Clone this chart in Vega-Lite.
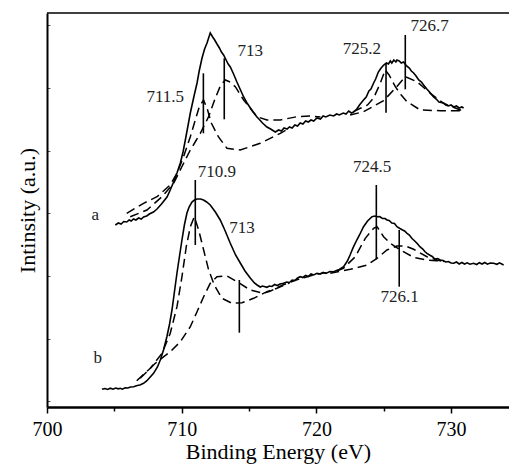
{
  "$schema": "https://vega.github.io/schema/vega-lite/v6.json",
  "width": 462,
  "height": 394,
  "autosize": {"type": "none"},
  "padding": {"left": 47, "top": 13, "right": 0, "bottom": 59},
  "config": {
    "view": {"stroke": null},
    "font": "Liberation Serif",
    "axis": {"labelFont": "Liberation Serif", "titleFont": "Liberation Serif", "grid": false, "titleFontWeight": "normal", "titleColor": "black", "labelColor": "black", "domainColor": "black", "titleFontSize": 22},
    "axisX": {"domainWidth": 2.5, "tickColor": "black", "tickWidth": 1.5, "labelFontSize": 20, "labelPadding": 6, "labelFlush": false, "titlePadding": 2},
    "axisY": {"domainWidth": 2, "tickColor": "#555", "tickWidth": 1, "tickSize": -3, "labels": false, "titlePadding": 7}
  },
  "datasets": {
    "solid": [
      {"s":"a","E":705.07,"I":182},{"s":"a","E":705.3,"I":184},{"s":"a","E":705.5,"I":183},{"s":"a","E":705.7,"I":185.5},{"s":"a","E":705.92,"I":185},{"s":"a","E":706.1,"I":187},{"s":"a","E":706.25,"I":186},{"s":"a","E":706.42,"I":188},{"s":"a","E":706.6,"I":187},{"s":"a","E":706.8,"I":189},{"s":"a","E":707.0,"I":188},{"s":"a","E":707.17,"I":190},{"s":"a","E":707.4,"I":191},{"s":"a","E":707.6,"I":193},{"s":"a","E":707.9,"I":195},{"s":"a","E":708.17,"I":198},{"s":"a","E":708.5,"I":203},{"s":"a","E":708.91,"I":210},{"s":"a","E":709.15,"I":217},{"s":"a","E":709.4,"I":225},{"s":"a","E":709.65,"I":234},{"s":"a","E":709.9,"I":244},{"s":"a","E":710.1,"I":255},{"s":"a","E":710.27,"I":267},{"s":"a","E":710.45,"I":280},{"s":"a","E":710.64,"I":294},{"s":"a","E":710.9,"I":310},{"s":"a","E":711.14,"I":324},{"s":"a","E":711.3,"I":336},{"s":"a","E":711.51,"I":349},{"s":"a","E":711.7,"I":358},{"s":"a","E":711.88,"I":364},{"s":"a","E":712.0,"I":369},{"s":"a","E":712.12,"I":374},{"s":"a","E":712.3,"I":370},{"s":"a","E":712.45,"I":367},{"s":"a","E":712.62,"I":363},{"s":"a","E":712.8,"I":359},{"s":"a","E":712.95,"I":355},{"s":"a","E":713.11,"I":352},{"s":"a","E":713.3,"I":347},{"s":"a","E":713.45,"I":343},{"s":"a","E":713.61,"I":340},{"s":"a","E":713.85,"I":333},{"s":"a","E":714.1,"I":325},{"s":"a","E":714.4,"I":316},{"s":"a","E":714.6,"I":310},{"s":"a","E":714.85,"I":304},{"s":"a","E":715.1,"I":299},{"s":"a","E":715.3,"I":295},{"s":"a","E":715.59,"I":290},{"s":"a","E":715.8,"I":287},{"s":"a","E":716.0,"I":284},{"s":"a","E":716.33,"I":280},{"s":"a","E":716.6,"I":278},{"s":"a","E":716.95,"I":275},{"s":"a","E":717.2,"I":277},{"s":"a","E":717.4,"I":276},{"s":"a","E":717.6,"I":279},{"s":"a","E":717.82,"I":278},{"s":"a","E":718.0,"I":280},{"s":"a","E":718.2,"I":279},{"s":"a","E":718.4,"I":282},{"s":"a","E":718.6,"I":281},{"s":"a","E":718.8,"I":284},{"s":"a","E":719.0,"I":283},{"s":"a","E":719.2,"I":286},{"s":"a","E":719.4,"I":285},{"s":"a","E":719.6,"I":287},{"s":"a","E":719.8,"I":286},{"s":"a","E":720.04,"I":289},{"s":"a","E":720.3,"I":288},{"s":"a","E":720.5,"I":291},{"s":"a","E":720.7,"I":290},{"s":"a","E":721.0,"I":292},{"s":"a","E":721.28,"I":291},{"s":"a","E":721.5,"I":293},{"s":"a","E":721.7,"I":292},{"s":"a","E":722.0,"I":294},{"s":"a","E":722.2,"I":293},{"s":"a","E":722.4,"I":296},{"s":"a","E":722.6,"I":294},{"s":"a","E":722.76,"I":295},{"s":"a","E":723.0,"I":298},{"s":"a","E":723.2,"I":302},{"s":"a","E":723.5,"I":307},{"s":"a","E":723.7,"I":310},{"s":"a","E":723.9,"I":316},{"s":"a","E":724.05,"I":318},{"s":"a","E":724.25,"I":324},{"s":"a","E":724.4,"I":328},{"s":"a","E":724.6,"I":335},{"s":"a","E":724.75,"I":338},{"s":"a","E":724.87,"I":340},{"s":"a","E":725.0,"I":342},{"s":"a","E":725.2,"I":344},{"s":"a","E":725.35,"I":343},{"s":"a","E":725.49,"I":346},{"s":"a","E":725.6,"I":344},{"s":"a","E":725.75,"I":347},{"s":"a","E":725.9,"I":345},{"s":"a","E":725.98,"I":347},{"s":"a","E":726.15,"I":346},{"s":"a","E":726.3,"I":344},{"s":"a","E":726.47,"I":345},{"s":"a","E":726.7,"I":341},{"s":"a","E":726.9,"I":339},{"s":"a","E":727.05,"I":336},{"s":"a","E":727.22,"I":334},{"s":"a","E":727.4,"I":331},{"s":"a","E":727.6,"I":327},{"s":"a","E":727.8,"I":325},{"s":"a","E":727.96,"I":322},{"s":"a","E":728.2,"I":318},{"s":"a","E":728.4,"I":315},{"s":"a","E":728.7,"I":310},{"s":"a","E":728.9,"I":308},{"s":"a","E":729.1,"I":305},{"s":"a","E":729.44,"I":304},{"s":"a","E":729.6,"I":302},{"s":"a","E":729.8,"I":301},{"s":"a","E":730.0,"I":302},{"s":"a","E":730.19,"I":300},{"s":"a","E":730.4,"I":301},{"s":"a","E":730.6,"I":299},{"s":"a","E":730.8,"I":300},{"s":"a","E":730.93,"I":299},
      {"s":"b","E":704.08,"I":17.7},{"s":"b","E":704.3,"I":18.5},{"s":"b","E":704.5,"I":17.5},{"s":"b","E":704.7,"I":18.8},{"s":"b","E":704.9,"I":17.8},{"s":"b","E":705.1,"I":19},{"s":"b","E":705.3,"I":18.2},{"s":"b","E":705.44,"I":18.7},{"s":"b","E":705.6,"I":17.8},{"s":"b","E":705.8,"I":19.2},{"s":"b","E":706.0,"I":19},{"s":"b","E":706.2,"I":20},{"s":"b","E":706.43,"I":20.3},{"s":"b","E":706.7,"I":21.5},{"s":"b","E":706.9,"I":22},{"s":"b","E":707.17,"I":23.7},{"s":"b","E":707.4,"I":26},{"s":"b","E":707.6,"I":29},{"s":"b","E":707.91,"I":33.7},{"s":"b","E":708.2,"I":40},{"s":"b","E":708.41,"I":47},{"s":"b","E":708.65,"I":57},{"s":"b","E":708.9,"I":70.3},{"s":"b","E":709.1,"I":83},{"s":"b","E":709.28,"I":97},{"s":"b","E":709.45,"I":114},{"s":"b","E":709.65,"I":134},{"s":"b","E":709.85,"I":152},{"s":"b","E":710.02,"I":167},{"s":"b","E":710.2,"I":182},{"s":"b","E":710.39,"I":194},{"s":"b","E":710.55,"I":200},{"s":"b","E":710.76,"I":205},{"s":"b","E":710.95,"I":207},{"s":"b","E":711.14,"I":208},{"s":"b","E":711.4,"I":208},{"s":"b","E":711.62,"I":207},{"s":"b","E":711.85,"I":205},{"s":"b","E":712.12,"I":202},{"s":"b","E":712.5,"I":195},{"s":"b","E":712.86,"I":187},{"s":"b","E":713.2,"I":177},{"s":"b","E":713.6,"I":164},{"s":"b","E":714.0,"I":152},{"s":"b","E":714.35,"I":144},{"s":"b","E":714.7,"I":136},{"s":"b","E":715.09,"I":129},{"s":"b","E":715.4,"I":124},{"s":"b","E":715.6,"I":122},{"s":"b","E":715.83,"I":120},{"s":"b","E":716.0,"I":121},{"s":"b","E":716.33,"I":119.7},{"s":"b","E":716.5,"I":121},{"s":"b","E":716.7,"I":120.5},{"s":"b","E":716.9,"I":122.5},{"s":"b","E":717.1,"I":121.5},{"s":"b","E":717.3,"I":123},{"s":"b","E":717.56,"I":123.7},{"s":"b","E":717.8,"I":125},{"s":"b","E":718.0,"I":124.5},{"s":"b","E":718.2,"I":127},{"s":"b","E":718.4,"I":126.5},{"s":"b","E":718.6,"I":129},{"s":"b","E":718.8,"I":130.3},{"s":"b","E":719.0,"I":129.5},{"s":"b","E":719.2,"I":131.5},{"s":"b","E":719.4,"I":130.5},{"s":"b","E":719.6,"I":133},{"s":"b","E":719.8,"I":132},{"s":"b","E":720.04,"I":133.7},{"s":"b","E":720.3,"I":133},{"s":"b","E":720.5,"I":134.5},{"s":"b","E":720.7,"I":133.5},{"s":"b","E":721.0,"I":135.5},{"s":"b","E":721.28,"I":135.3},{"s":"b","E":721.5,"I":136.5},{"s":"b","E":721.7,"I":137.5},{"s":"b","E":722.02,"I":140.3},{"s":"b","E":722.3,"I":146},{"s":"b","E":722.5,"I":152},{"s":"b","E":722.76,"I":160.3},{"s":"b","E":723.0,"I":167},{"s":"b","E":723.2,"I":172},{"s":"b","E":723.5,"I":180.3},{"s":"b","E":723.8,"I":186},{"s":"b","E":724.13,"I":190.3},{"s":"b","E":724.35,"I":191},{"s":"b","E":724.5,"I":190.3},{"s":"b","E":724.7,"I":190.5},{"s":"b","E":724.9,"I":188.5},{"s":"b","E":725.1,"I":188.5},{"s":"b","E":725.24,"I":187},{"s":"b","E":725.4,"I":186.5},{"s":"b","E":725.6,"I":184},{"s":"b","E":725.8,"I":183.5},{"s":"b","E":725.98,"I":180.3},{"s":"b","E":726.2,"I":178.5},{"s":"b","E":726.4,"I":177},{"s":"b","E":726.55,"I":176},{"s":"b","E":726.73,"I":173.7},{"s":"b","E":726.9,"I":172},{"s":"b","E":727.1,"I":168.5},{"s":"b","E":727.3,"I":166},{"s":"b","E":727.47,"I":163.7},{"s":"b","E":727.7,"I":160},{"s":"b","E":727.9,"I":158},{"s":"b","E":728.05,"I":155.5},{"s":"b","E":728.21,"I":153.7},{"s":"b","E":728.4,"I":152},{"s":"b","E":728.6,"I":150.5},{"s":"b","E":728.8,"I":148},{"s":"b","E":729.0,"I":148.5},{"s":"b","E":729.2,"I":147},{"s":"b","E":729.4,"I":146.5},{"s":"b","E":729.6,"I":145},{"s":"b","E":729.8,"I":145.5},{"s":"b","E":730.0,"I":144},{"s":"b","E":730.19,"I":143.7},{"s":"b","E":730.4,"I":145},{"s":"b","E":730.6,"I":143},{"s":"b","E":730.8,"I":144.5},{"s":"b","E":731.0,"I":143},{"s":"b","E":731.2,"I":144.2},{"s":"b","E":731.4,"I":142.8},{"s":"b","E":731.67,"I":143.7},{"s":"b","E":731.9,"I":142.5},{"s":"b","E":732.1,"I":144.3},{"s":"b","E":732.3,"I":143},{"s":"b","E":732.5,"I":144.5},{"s":"b","E":732.7,"I":142.8},{"s":"b","E":732.9,"I":143.9},{"s":"b","E":733.16,"I":143.7},{"s":"b","E":733.4,"I":142.7},{"s":"b","E":733.6,"I":144.2},{"s":"b","E":733.9,"I":142}
    ],
    "dashed": [
      {"c":"a1","E":705.92,"I":193.7},{"c":"a1","E":707.17,"I":203.7},{"c":"a1","E":708.17,"I":210.3},{"c":"a1","E":709.15,"I":222},{"c":"a1","E":709.65,"I":233.7},{"c":"a1","E":710.14,"I":250.3},{"c":"a1","E":710.64,"I":270.3},{"c":"a1","E":711.01,"I":287},{"c":"a1","E":711.3,"I":300},{"c":"a1","E":711.62,"I":307},{"c":"a1","E":711.9,"I":298},{"c":"a1","E":712.2,"I":284},{"c":"a1","E":712.72,"I":270.3},{"c":"a1","E":713.36,"I":258.7},{"c":"a1","E":714.35,"I":257},{"c":"a1","E":715.83,"I":263.7},{"c":"a1","E":717.32,"I":273.7},{"c":"a1","E":718.0,"I":279},
      {"c":"a2","E":706.18,"I":190.3},{"c":"a2","E":707.42,"I":197},{"c":"a2","E":708.54,"I":210.3},{"c":"a2","E":709.4,"I":223.7},{"c":"a2","E":710.0,"I":240},{"c":"a2","E":710.6,"I":256},{"c":"a2","E":711.0,"I":265},{"c":"a2","E":711.38,"I":273.7},{"c":"a2","E":712.0,"I":290.3},{"c":"a2","E":712.49,"I":308.7},{"c":"a2","E":712.9,"I":322},{"c":"a2","E":713.24,"I":327},{"c":"a2","E":713.6,"I":325},{"c":"a2","E":713.98,"I":320.3},{"c":"a2","E":714.6,"I":307},{"c":"a2","E":715.59,"I":290.3},{"c":"a2","E":716.33,"I":287},{"c":"a2","E":717.32,"I":287},{"c":"a2","E":718.56,"I":290.3},{"c":"a2","E":719.5,"I":291},{"c":"a2","E":720.3,"I":290},
      {"c":"a3","E":722.76,"I":295.3},{"c":"a3","E":723.26,"I":298.7},{"c":"a3","E":723.8,"I":302},{"c":"a3","E":724.25,"I":309},{"c":"a3","E":724.74,"I":323.7},{"c":"a3","E":725.11,"I":337},{"c":"a3","E":725.4,"I":332},{"c":"a3","E":725.86,"I":320.3},{"c":"a3","E":726.3,"I":312},{"c":"a3","E":726.73,"I":305.3},{"c":"a3","E":727.71,"I":297},{"c":"a3","E":729.2,"I":296.3},{"c":"a3","E":730.68,"I":296.3},{"c":"a3","E":730.93,"I":296.5},
      {"c":"a4","E":722.5,"I":292},{"c":"a4","E":723.5,"I":295.3},{"c":"a4","E":724.99,"I":306.3},{"c":"a4","E":725.86,"I":318.7},{"c":"a4","E":726.6,"I":330.3},{"c":"a4","E":727.47,"I":325.3},{"c":"a4","E":728.46,"I":313.7},{"c":"a4","E":729.44,"I":303.7},{"c":"a4","E":730.68,"I":297},{"c":"a4","E":730.93,"I":297},
      {"c":"b1","E":706.66,"I":26.3},{"c":"b1","E":707.67,"I":38.7},{"c":"b1","E":708.54,"I":53.7},{"c":"b1","E":709.15,"I":73.7},{"c":"b1","E":709.65,"I":100.3},{"c":"b1","E":710.02,"I":130.3},{"c":"b1","E":710.34,"I":160.3},{"c":"b1","E":710.64,"I":180.3},{"c":"b1","E":710.94,"I":190.3},{"c":"b1","E":711.26,"I":177},{"c":"b1","E":711.63,"I":157},{"c":"b1","E":712.0,"I":137},{"c":"b1","E":712.42,"I":122},{"c":"b1","E":712.99,"I":108.7},{"c":"b1","E":713.73,"I":103.7},{"c":"b1","E":714.48,"I":104.3},{"c":"b1","E":715.34,"I":108.7},{"c":"b1","E":716.33,"I":115.3},{"c":"b1","E":717.07,"I":118.7},{"c":"b1","E":718.0,"I":124},
      {"c":"b2","E":706.92,"I":28.7},{"c":"b2","E":708.04,"I":43.7},{"c":"b2","E":709.15,"I":55.3},{"c":"b2","E":709.9,"I":65.3},{"c":"b2","E":710.64,"I":80.3},{"c":"b2","E":711.14,"I":95.3},{"c":"b2","E":711.63,"I":110.3},{"c":"b2","E":712.12,"I":123.7},{"c":"b2","E":712.62,"I":130.3},{"c":"b2","E":713.36,"I":131},{"c":"b2","E":714.1,"I":125.3},{"c":"b2","E":715.09,"I":117},{"c":"b2","E":716.08,"I":113.7},{"c":"b2","E":716.6,"I":116},{"c":"b2","E":717.5,"I":122},{"c":"b2","E":718.5,"I":127},{"c":"b2","E":719.5,"I":131},{"c":"b2","E":720.5,"I":134},{"c":"b2","E":721.03,"I":134.5},
      {"c":"b3","E":721.5,"I":136},{"c":"b3","E":722.0,"I":138.7},{"c":"b3","E":722.89,"I":150.3},{"c":"b3","E":723.63,"I":168.7},{"c":"b3","E":724.25,"I":178.7},{"c":"b3","E":724.5,"I":180.3},{"c":"b3","E":724.99,"I":170.3},{"c":"b3","E":725.49,"I":163.7},{"c":"b3","E":726.23,"I":157},{"c":"b3","E":727.22,"I":149.7},{"c":"b3","E":728.21,"I":147},{"c":"b3","E":728.95,"I":146.3},{"c":"b3","E":729.5,"I":145.5},
      {"c":"b4","E":721.03,"I":133.7},{"c":"b4","E":722.52,"I":137.7},{"c":"b4","E":723.76,"I":142},{"c":"b4","E":724.5,"I":148.7},{"c":"b4","E":725.24,"I":157},{"c":"b4","E":725.98,"I":161},{"c":"b4","E":726.6,"I":161},{"c":"b4","E":727.22,"I":157.7},{"c":"b4","E":728.21,"I":150.3},{"c":"b4","E":728.95,"I":147},{"c":"b4","E":729.5,"I":145.5},
      {"c":"top","E":700,"I":394},{"c":"top","E":734.3,"I":394}
    ],
    "peaklines": [
      {"E":711.61,"I1":273.7,"I2":333.7},
      {"E":713.16,"I1":287.7,"I2":348.7},
      {"E":725.17,"I1":294.3,"I2":343.7},
      {"E":726.6,"I1":317.7,"I2":372},
      {"E":711.01,"I1":162,"I2":227},
      {"E":714.28,"I1":74.3,"I2":127},
      {"E":724.45,"I1":147.7,"I2":222},
      {"E":726.15,"I1":120.3,"I2":177}
    ],
    "labels": [
      {"E":708.78,"I":309.7,"t":"711.5"},
      {"E":715.09,"I":356,"t":"713"},
      {"E":723.37,"I":357.7,"t":"725.2"},
      {"E":728.4,"I":381,"t":"726.7"},
      {"E":712.62,"I":235.3,"t":"710.9"},
      {"E":714.47,"I":178.7,"t":"713"},
      {"E":724.13,"I":240.3,"t":"724.5"},
      {"E":726.18,"I":109.7,"t":"726.1"},
      {"E":703.59,"I":192,"t":"a"},
      {"E":703.76,"I":48.7,"t":"b"}
    ]
  },
  "layer": [
    {
      "data": {"name": "solid"},
      "mark": {"type": "line", "color": "black", "strokeWidth": 1.6},
      "encoding": {
        "x": {"field": "E", "type": "quantitative", "scale": {"domain": [700, 734.3], "nice": false, "zero": false},
          "title": "Binding Energy (eV)",
          "axis": {"values": [700, 705, 710, 715, 720, 725, 730], "labelExpr": "datum.value % 10 == 0 ? datum.label : ''",
            "tickSize": {"condition": {"test": "datum.value % 10 == 0", "value": 6}, "value": 4}}},
        "y": {"field": "I", "type": "quantitative", "scale": {"domain": [0, 394], "nice": false, "zero": false},
          "title": "Intinsity (a.u.)",
          "axis": {"values": [5.6, 21.3, 36.9, 52.6, 68.3, 83.9, 99.6, 115.3, 130.9, 146.6, 162.3, 177.9, 193.6, 209.3, 224.9, 240.6, 256.3, 271.9, 287.6, 303.3, 318.9, 334.6, 350.3, 365.9, 381.6]}},
        "detail": {"field": "s"}
      }
    },
    {
      "data": {"name": "dashed"},
      "mark": {"type": "line", "color": "black", "strokeWidth": 1.5},
      "encoding": {
        "x": {"field": "E", "type": "quantitative", "title": "Binding Energy (eV)"},
        "y": {"field": "I", "type": "quantitative", "title": "Intinsity (a.u.)"},
        "detail": {"field": "c"},
        "strokeDash": {"condition": {"test": "datum.c == 'top'", "value": [1, 0]}, "value": [9, 5]},
        "strokeWidth": {"condition": {"test": "datum.c == 'top'", "value": 3}, "value": 1.5}
      }
    },
    {
      "data": {"name": "peaklines"},
      "mark": {"type": "rule", "color": "black", "strokeWidth": 1.6},
      "encoding": {
        "x": {"field": "E", "type": "quantitative", "title": "Binding Energy (eV)"},
        "y": {"field": "I1", "type": "quantitative", "title": "Intinsity (a.u.)"},
        "y2": {"field": "I2"}
      }
    },
    {
      "data": {"name": "labels"},
      "mark": {"type": "text", "font": "Liberation Serif", "fontSize": 17, "color": "#222", "align": "center", "baseline": "middle"},
      "encoding": {
        "x": {"field": "E", "type": "quantitative", "title": "Binding Energy (eV)"},
        "y": {"field": "I", "type": "quantitative", "title": "Intinsity (a.u.)"},
        "text": {"field": "t"}
      }
    }
  ]
}
